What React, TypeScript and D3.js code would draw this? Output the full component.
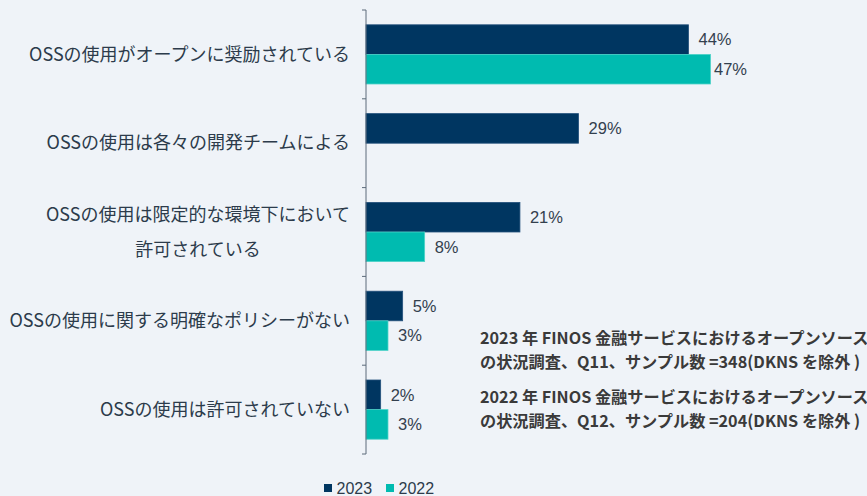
import React, { useEffect, useRef } from 'react';
import * as d3 from 'd3';

const categories = [
  ['OSSの使用がオープンに奨励されている'],
  ['OSSの使用は各々の開発チームによる'],
  ['OSSの使用は限定的な環境下において', '許可されている'],
  ['OSSの使用に関する明確なポリシーがない'],
  ['OSSの使用は許可されていない'],
];
const series = ['2023', '2022'];
const values2023 = [44, 29, 21, 5, 2];
const values2022: (number | null)[] = [47, null, 8, 3, 3];
const notes = [
  ['2023 年 FINOS 金融サービスにおけるオープンソース', 'の状況調査、Q11、サンプル数 =348(DKNS を除外 )'],
  ['2022 年 FINOS 金融サービスにおけるオープンソース', 'の状況調査、Q12、サンプル数 =204(DKNS を除外 )'],
];

const W = 867;
const H = 496;
const colors: Record<string, string> = { '2023': '#003661', '2022': '#00bbb0' };
const strokes: Record<string, string> = { '2023': '#24517c', '2022': '#4ed3c8' };
const CJK = '"Noto Sans CJK JP", "Noto Sans", sans-serif';
const LAT = '"Liberation Sans", Arial, sans-serif';

const App = () => {
  const svgRef = useRef<SVGSVGElement>(null);

  useEffect(() => {
    const svg = d3.select(svgRef.current);
    svg.selectAll('*').remove();

    const x0 = 366;
    const x = d3.scaleLinear().domain([0, 50]).range([x0, x0 + 50 * 7.33]);
    const keys = categories.map((_, i) => String(i));
    const y = d3.scaleBand().domain(keys).range([10, 454]).padding(0);
    const inner = d3.scaleBand().domain(series).range([0, y.bandwidth()]).paddingOuter(0.5).paddingInner(0);

    svg.append('rect').attr('width', W).attr('height', H).attr('fill', '#eff3f8');

    const rows = categories.map((c, i) => ({
      key: String(i),
      label: c,
      vals: [
        { s: '2023', v: values2023[i] },
        { s: '2022', v: values2022[i] },
      ].filter(d => d.v !== null) as { s: string; v: number }[],
    }));

    const g = svg.selectAll('g.row').data(rows).enter().append('g')
      .attr('transform', d => `translate(0,${y(d.key)})`);

    g.selectAll('rect').data(d => d.vals).enter().append('rect')
      .attr('x', x0)
      .attr('y', d => inner(d.s)!)
      .attr('width', d => x(d.v) - x0)
      .attr('height', inner.bandwidth())
      .attr('fill', d => colors[d.s])
      .attr('stroke', d => strokes[d.s])
      .attr('stroke-width', 0.8);

    g.selectAll('text.val').data(d => d.vals).enter().append('text')
      .attr('class', 'val')
      .attr('x', d => Math.min(x(d.v) + 10, 714))
      .attr('y', d => inner(d.s)! + inner.bandwidth() / 2)
      .attr('dy', '0.35em')
      .attr('font-family', LAT)
      .attr('font-size', 16.5)
      .attr('fill', '#33404e')
      .text(d => `${d.v}%`);

    // category labels
    g.each(function (d) {
      const cy = y.bandwidth() / 2;
      const lh = 35;
      const n = d.label.length;
      const t = d3.select(this);
      const first = t.append('text')
        .attr('x', 350)
        .attr('y', cy - ((n - 1) * lh) / 2)
        .attr('dy', '0.35em')
        .attr('text-anchor', 'end')
        .attr('font-family', CJK)
        .attr('font-size', 18)
        .attr('fill', '#2c3b4b')
        .text(d.label[0]);
      if (n > 1) {
        const w = (first.node() as SVGTextElement).getComputedTextLength();
        d.label.slice(1).forEach((l, j) => {
          t.append('text')
            .attr('x', 350 - w / 2)
            .attr('y', cy - ((n - 1) * lh) / 2 + (j + 1) * lh)
            .attr('dy', '0.35em')
            .attr('text-anchor', 'middle')
            .attr('font-family', CJK)
            .attr('font-size', 18)
            .attr('fill', '#2c3b4b')
            .text(l);
        });
      }
    });

    // axis with tick marks at category boundaries
    const bounds = [...keys.map(k => y(k)!), 454];
    const ag = svg.append('g').attr('transform', `translate(${x0},0)`);
    ag.append('line').attr('y1', 10).attr('y2', 454).attr('stroke', '#5c6b7a');
    ag.selectAll('line.tk').data(bounds).enter().append('line')
      .attr('x1', -4).attr('x2', 0)
      .attr('y1', d => d).attr('y2', d => d)
      .attr('stroke', '#5c6b7a');

    // legend
    const lg = svg.append('g').attr('transform', 'translate(324,484)');
    series.forEach((s, i) => {
      const ox = i * 62;
      lg.append('rect').attr('x', ox).attr('y', 0).attr('width', 8).attr('height', 8).attr('fill', colors[s]);
      lg.append('text').attr('x', ox + 12.5).attr('y', 4).attr('dy', '0.36em')
        .attr('font-family', LAT).attr('font-size', 16).attr('fill', '#2c3b4b').text(s);
    });

    // notes
    notes.forEach((lines, i) => {
      lines.forEach((l, j) => {
        svg.append('text')
          .attr('x', 480)
          .attr('y', 338 + i * 59 + j * 24)
          .attr('dy', '0.35em')
          .attr('font-family', CJK)
          .attr('font-weight', 'bold')
          .attr('font-size', 16.2)
          .attr('fill', '#3a3a3a')
          .text(l);
      });
    });
  }, []);

  return (
    <div style={{ position: 'fixed', left: 0, top: 0 }}>
      <svg ref={svgRef} width={W} height={H} style={{ display: 'block' }} />
    </div>
  );
};

export default App;
